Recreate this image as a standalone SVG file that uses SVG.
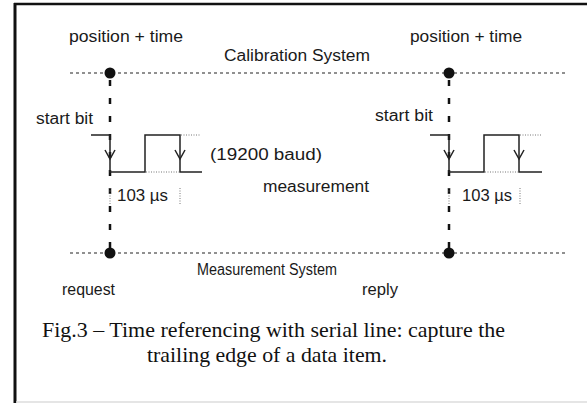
<svg xmlns="http://www.w3.org/2000/svg" width="587" height="403" viewBox="0 0 587 403">
<style>
.lbl{font-family:"Liberation Sans",Arial,sans-serif;font-size:16px;fill:#1a1a1a}
.cap{font-family:"Liberation Serif","Times New Roman",serif;font-size:22px;fill:#111}
.hdot{stroke:#222;stroke-width:1.2;stroke-dasharray:3 3;fill:none}
.vdash{stroke:#111;stroke-width:2.5;stroke-dasharray:6 12;fill:none}
.wave{stroke:#222;stroke-width:1.5;fill:none}
.fine{stroke:#777;stroke-width:1;stroke-dasharray:1 1.5;fill:none}
.dot{fill:#111}
</style>
<rect x="0" y="0" width="587" height="403" fill="#fff"/>
<g id="frame">
<line x1="15" y1="3" x2="15" y2="403" stroke="#111" stroke-width="3"/>
<line x1="14" y1="4" x2="587" y2="4" stroke="#111" stroke-width="2.5"/>
<line x1="16" y1="402" x2="587" y2="402" stroke="#ddd" stroke-width="1.5"/>
</g>
<g id="connectors">
<line class="hdot" x1="70" y1="73" x2="568" y2="73"/>
<line class="hdot" x1="70" y1="253" x2="568" y2="253"/>
<line class="vdash" x1="110" y1="80" x2="110" y2="250"/>
<line class="vdash" x1="449" y1="80" x2="449" y2="250"/>
</g>
<g id="calibration-system">
<text class="lbl" x="224" y="61" textLength="146" lengthAdjust="spacingAndGlyphs">Calibration System</text>
</g>
<g id="measurement-system">
<text class="lbl" x="197" y="275" textLength="140" lengthAdjust="spacingAndGlyphs">Measurement System</text>
</g>
<g id="left-event">
<text class="lbl" x="69" y="42" textLength="114" lengthAdjust="spacingAndGlyphs">position + time</text>
<circle class="dot" cx="110" cy="73" r="5.5"/>
<circle class="dot" cx="110" cy="253" r="5.5"/>
<text class="lbl" x="36" y="124" textLength="57" lengthAdjust="spacingAndGlyphs">start bit</text>
<text class="lbl" x="62" y="295" textLength="53" lengthAdjust="spacingAndGlyphs">request</text>
</g>
<g id="left-signal">
<polyline class="wave" points="91,135 110,135 110,172 145,172 145,135 180,135 180,172 202,172"/>
<line class="fine" x1="181" y1="135" x2="200" y2="135"/>
<line class="fine" x1="146" y1="172" x2="179" y2="172"/>
<polyline class="wave" points="105,150 110,159 115,150"/>
<polyline class="wave" points="175,150 180,159 185,150"/>
<line class="fine" x1="110" y1="188" x2="110" y2="205"/>
<line class="fine" x1="180" y1="188" x2="180" y2="205"/>
<text class="lbl" x="117" y="201" textLength="51" lengthAdjust="spacingAndGlyphs">103 µs</text>
<text class="lbl" x="210" y="160" textLength="112" lengthAdjust="spacingAndGlyphs">(19200 baud)</text>
</g>
<g id="measurement-label">
<text class="lbl" x="263" y="192" textLength="106" lengthAdjust="spacingAndGlyphs">measurement</text>
</g>
<g id="right-event">
<text class="lbl" x="410" y="42" textLength="112" lengthAdjust="spacingAndGlyphs">position + time</text>
<circle class="dot" cx="449" cy="73" r="5.5"/>
<circle class="dot" cx="449" cy="253" r="5.5"/>
<text class="lbl" x="375" y="121" textLength="58" lengthAdjust="spacingAndGlyphs">start bit</text>
<text class="lbl" x="362" y="295" textLength="36" lengthAdjust="spacingAndGlyphs">reply</text>
</g>
<g id="right-signal">
<polyline class="wave" points="430,135 449,135 449,172 484,172 484,135 519,135 519,172 542,172"/>
<line class="fine" x1="520" y1="135" x2="542" y2="135"/>
<line class="fine" x1="485" y1="172" x2="518" y2="172"/>
<polyline class="wave" points="444,150 449,159 454,150"/>
<polyline class="wave" points="514,150 519,159 524,150"/>
<line class="fine" x1="449" y1="188" x2="449" y2="205"/>
<line class="fine" x1="520" y1="188" x2="520" y2="205"/>
<text class="lbl" x="462" y="201" textLength="50" lengthAdjust="spacingAndGlyphs">103 µs</text>
</g>
<g id="caption">
<text class="cap" x="42" y="337" textLength="463" lengthAdjust="spacingAndGlyphs">Fig.3 – Time referencing with serial line: capture the</text>
<text class="cap" x="147" y="362" textLength="240" lengthAdjust="spacingAndGlyphs">trailing edge of a data item.</text>
</g>
</svg>
